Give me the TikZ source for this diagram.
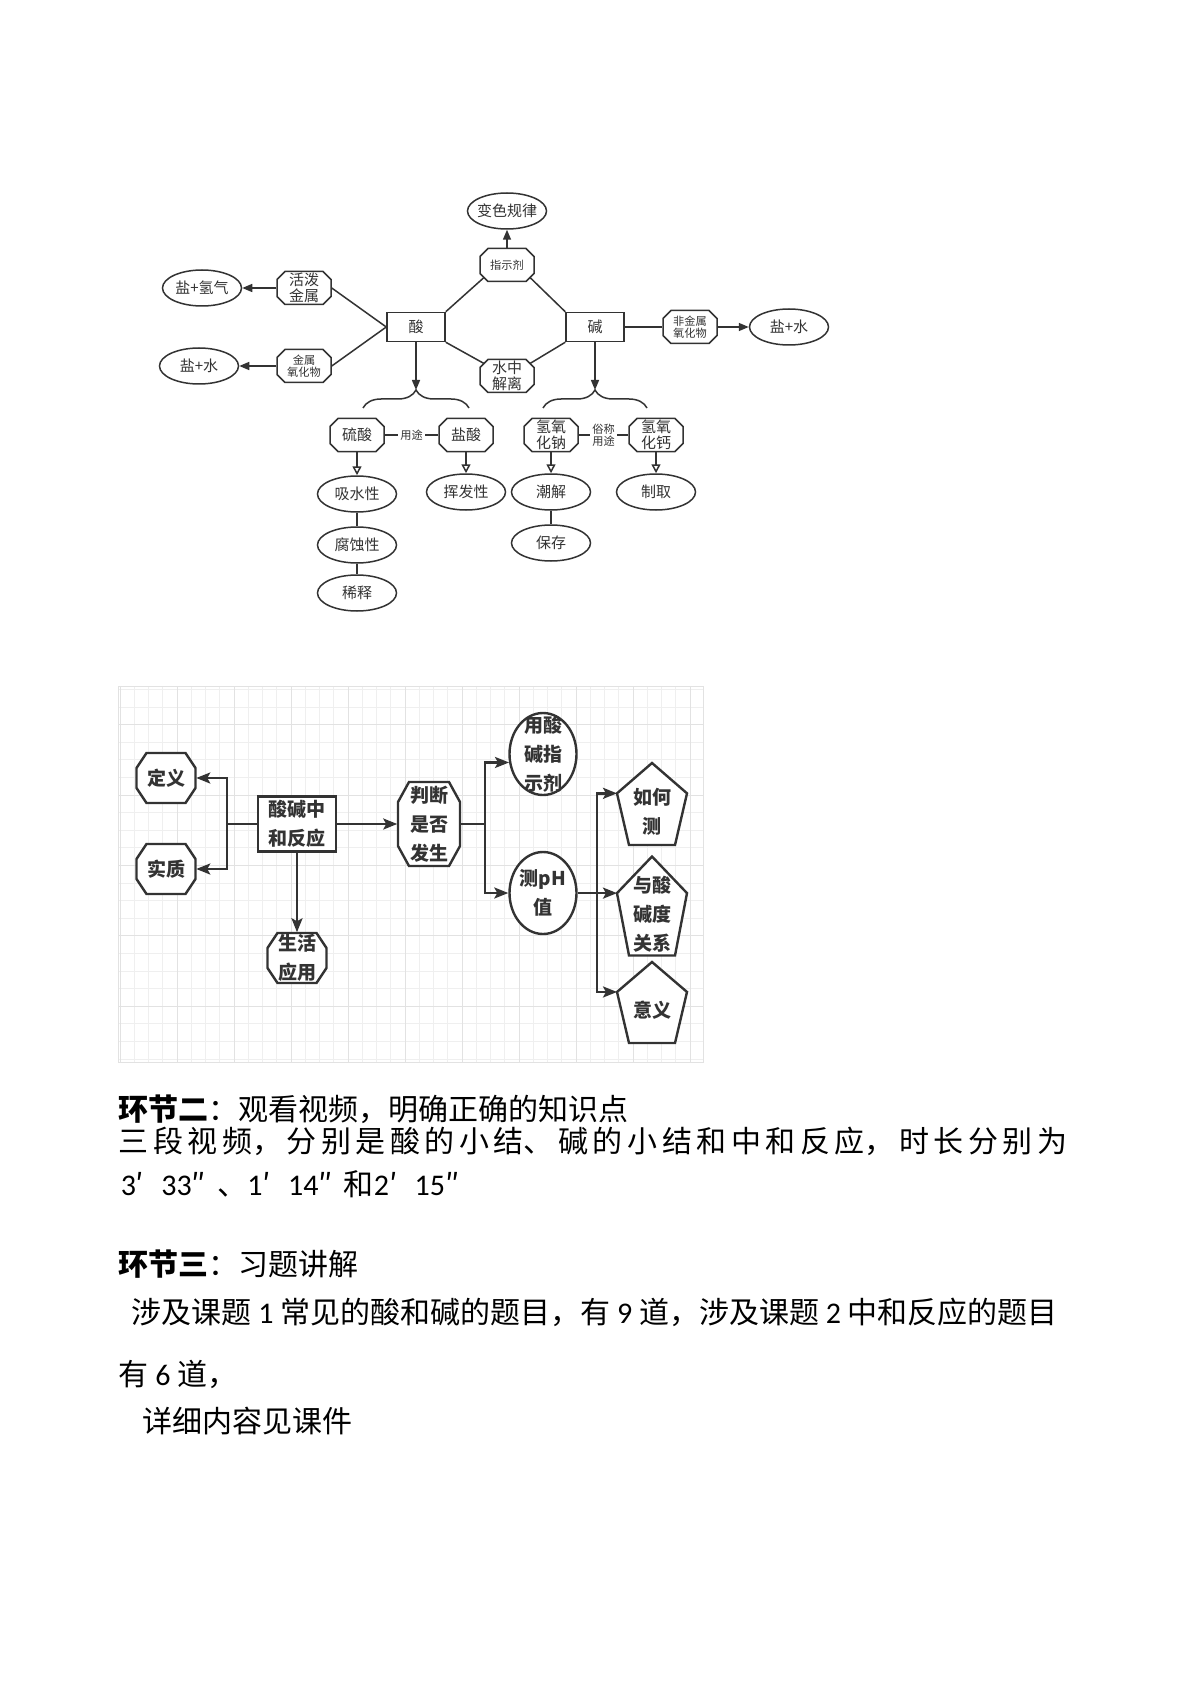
\documentclass[tikz,border=0pt]{standalone}
\usepackage{fontspec}
\setmainfont{Noto Sans CJK SC}
\newfontfamily\latn{Carlito}
\usetikzlibrary{arrows.meta, calc, shapes.geometric, decorations.pathreplacing}
\definecolor{ink}{HTML}{333333}
\definecolor{gridmin}{HTML}{EFEFEF}
\definecolor{gridmaj}{HTML}{E2E2E2}

\newcommand\topfont{\fontsize{7.5}{7.8}\selectfont}
\newcommand\topsmall{\fontsize{5.6}{6.2}\selectfont}
\newcommand\btmfont{\fontsize{9.5}{14.5}\selectfont\bfseries}
\newcommand\parafont{\fontsize{15}{18}\selectfont}
\newcommand\fw[1]{\makebox[0.85em][l]{#1}}

% octagon: [style], name, centre x, centre y, width, height, cut x, cut y
% midpoints of the cut corners kept as (name-nw) (name-ne) (name-sw) (name-se)
\newcommand\drawoct[8][]{%
  \draw[ink, fill=white, #1]
    ({#3-#5/2+#7},{#4-#6/2}) -- ({#3+#5/2-#7},{#4-#6/2})
    -- ({#3+#5/2},{#4-#6/2+#8}) -- ({#3+#5/2},{#4+#6/2-#8})
    -- ({#3+#5/2-#7},{#4+#6/2}) -- ({#3-#5/2+#7},{#4+#6/2})
    -- ({#3-#5/2},{#4+#6/2-#8}) -- ({#3-#5/2},{#4-#6/2+#8}) -- cycle;
  \coordinate (#2-nw) at ({#3-#5/2+#7/2},{#4-#6/2+#8/2});
  \coordinate (#2-ne) at ({#3+#5/2-#7/2},{#4-#6/2+#8/2});
  \coordinate (#2-sw) at ({#3-#5/2+#7/2},{#4+#6/2-#8/2});
  \coordinate (#2-se) at ({#3+#5/2-#7/2},{#4+#6/2-#8/2});}

% pentagon: name, centre x, top y, height -- left upper corner kept as (name-l)
\newcommand\drawpenta[4]{%
  \draw[ink, line width=1.2pt, fill=white]
    ({#2-35},{#3+0.37*#4}) coordinate (#1-l) -- (#2,#3)
    -- ({#2+35},{#3+0.37*#4}) -- ({#2+23},{#3+#4})
    -- ({#2-23},{#3+#4}) -- cycle;}

\begin{document}
\begin{tikzpicture}[
  x=0.5pt, y=-0.5pt,
  line width=0.75pt,
  every node/.style={text=ink, align=center},
  topbox/.style={draw=ink, rectangle, minimum width=29pt, minimum height=14.5pt,
    inner sep=0pt, font=\topfont},
  topoct/.style={rectangle, minimum width=27pt, minimum height=16.5pt,
    inner sep=0pt, font=\topfont},
  topell/.style={draw=ink, ellipse, minimum width=39.5pt, minimum height=18pt,
    inner sep=-4pt, font=\topfont},
  tarr/.style={draw=ink, -{Triangle[length=5pt, width=4pt]}},
  oarr/.style={draw=ink, -{Triangle[open, length=4.5pt, width=4.5pt]}},
  btmbox/.style={draw=ink, fill=white, line width=1.2pt, rectangle, minimum width=39pt,
    minimum height=27.5pt, inner sep=0pt, font=\btmfont},
  btmoct/.style={rectangle, minimum width=29.5pt, minimum height=25pt,
    inner sep=0pt, font=\btmfont},
  btmell/.style={draw=ink, fill=white, line width=1.2pt, ellipse, minimum width=33.5pt,
    minimum height=41pt, inner sep=-6pt, font=\btmfont},
  penta/.style={inner sep=0pt, font=\btmfont},
  bline/.style={draw=ink, line width=1.2pt},
  barr/.style={bline, -{Stealth[length=7pt, width=5.5pt, inset=1.5pt]}},
  para/.style={anchor=west, inner sep=0pt, text=black, font=\parafont, align=left}
]

% Page
\fill[white] (0,0) rectangle (1191,1684);
\useasboundingbox (0,0) rectangle (1191,1684);

% ── Acid / base map ──
\node[topbox] (acid) at (416,327) {酸};
\node[topbox] (alk) at (595,327) {碱};
\drawoct{ind}{507}{265}{54}{33}{8}{8}
\node[topoct, font=\topsmall] (ind) at (507,265) {指示剂};
\node[topell] (rule) at (507,211) {变色规律};
\drawoct{diss}{507}{376}{54}{33}{8}{8}
\node[topoct] (diss) at (507,376) {水中\\解离};
\drawoct{act}{304}{288}{54}{33}{8}{8}
\node[topoct] (act) at (304,288) {活泼\\金属};
\node[topell] (hyd) at (202,288) {盐+氢气};
\drawoct{mox}{304}{366}{54}{33}{8}{8}
\node[topoct, font=\topsmall] (mox) at (304,366) {金属\\氧化物};
\node[topell] (salt1) at (199,366) {盐+水};
\drawoct{nmox}{690}{327}{54}{33}{8}{8}
\node[topoct, font=\topsmall] (nmox) at (690,327) {非金属\\氧化物};
\node[topell] (salt2) at (789,327) {盐+水};

% the four substances
\drawoct{sulf}{357}{435}{54}{33}{8}{8}
\node[topoct] (sulf) at (357,435) {硫酸};
\drawoct{hcl}{466}{435}{54}{33}{8}{8}
\node[topoct] (hcl) at (466,435) {盐酸};
\drawoct{naoh}{551}{435}{54}{33}{8}{8}
\node[topoct] (naoh) at (551,435) {氢氧\\化钠};
\drawoct{caoh}{656}{435}{54}{33}{8}{8}
\node[topoct] (caoh) at (656,435) {氢氧\\化钙};
\node[topell] (absorb) at (357,494) {吸水性};
\node[topell] (corr) at (357,545) {腐蚀性};
\node[topell] (dil) at (357,593) {稀释};
\node[topell] (volat) at (466,492) {挥发性};
\node[topell] (deliq) at (551,492) {潮解};
\node[topell] (store) at (551,543) {保存};
\node[topell] (prep) at (656,492) {制取};

% brace ends and tips
\coordinate (lbl) at (363,408);
\coordinate (lbr) at (469,408);
\coordinate (lbtip) at (416,390);
\coordinate (rbl) at (543,408);
\coordinate (rbr) at (647,408);
\coordinate (rbtip) at (595,390);

\draw[tarr] (ind) -- (rule);
\draw[tarr] (act) -- (hyd);
\draw[tarr] (mox) -- (salt1);
\draw[tarr] (nmox) -- (salt2);
\draw[ink] (alk) -- (nmox);
\draw[ink] (act.east) -- (acid.west);
\draw[ink] (mox.east) -- (acid.west);
\draw[ink] (acid.north east) -- (ind-sw);
\draw[ink] (alk.north west) -- (ind-se);
\draw[ink] (acid.south east) -- (diss-nw);
\draw[ink] (alk.south west) -- (diss-ne);

\draw[tarr] (acid) -- (lbtip);
\draw[tarr] (alk) -- (rbtip);
\draw[ink, decorate, decoration={brace, amplitude=9pt}] (lbl) -- (lbr);
\draw[ink, decorate, decoration={brace, amplitude=9pt}] (rbl) -- (rbr);

\draw[ink] (sulf) -- node[fill=white, font=\topsmall, inner sep=1pt] (use1) {用途} (hcl);
\draw[ink] (naoh) -- node[fill=white, font=\topsmall, inner sep=1pt] (use2) {俗称\\用途} (caoh);
\draw[oarr] (sulf) -- (absorb);
\draw[oarr] (hcl) -- (volat);
\draw[oarr] (naoh) -- (deliq);
\draw[oarr] (caoh) -- (prep);
\draw[ink] (absorb) -- (corr);
\draw[ink] (corr) -- (dil);
\draw[ink] (deliq) -- (store);

% ── Neutralisation map on grid paper ──
\foreach \i in {0,...,40}
  \draw[gridmin, line width=0.5pt] ({120+14.25*\i},686) -- ({120+14.25*\i},1062);
\foreach \j in {0,...,21}
  \draw[gridmin, line width=0.5pt] (118,{689.5+17.6*\j}) -- (703,{689.5+17.6*\j});
\foreach \i in {0,4,...,40}
  \draw[gridmaj, line width=0.5pt] ({120+14.25*\i},686) -- ({120+14.25*\i},1062);
\foreach \j in {2,6,...,18}
  \draw[gridmaj, line width=0.5pt] (118,{689.5+17.6*\j}) -- (703,{689.5+17.6*\j});
\draw[gridmaj, line width=0.5pt] (118,686) rectangle (703,1062);

\node[btmbox] (neut) at (297,824) {酸碱中\\和反应};
\drawoct[line width=1.2pt]{def}{166}{778}{59}{50}{10}{15}
\node[btmoct] (def) at (166,778) {定义};
\drawoct[line width=1.2pt]{sub}{166}{869}{59}{50}{10}{15}
\node[btmoct] (sub) at (166,869) {实质};
\drawoct[line width=1.2pt]{life}{297}{958}{59}{50}{10}{15}
\node[btmoct] (life) at (297,958) {生活\\应用};
\drawoct[line width=1.2pt]{judge}{429}{824}{62}{84}{11}{20}
\node[btmoct, minimum width=31pt, minimum height=42pt] (judge) at (429,824) {判断\\是否\\发生};
\node[btmell] (indic) at (543,754) {用酸\\碱指\\示剂};
\node[btmell] (ph) at (543,893) {测pH\\值};

\drawpenta{how}{652}{763}{82}
\drawpenta{rel}{652}{856.5}{99}
\drawpenta{mean}{652}{962}{81}
\node[penta] (how) at (652,812) {如何\\测};
\node[penta] (rel) at (652,914) {与酸\\碱度\\关系};
\node[penta] (mean) at (652,1010) {意义};

\coordinate (jl) at (227,824);
\coordinate (jr) at (485,824);
\coordinate (jp) at (597,893);

\draw[bline] (neut.west) -- (jl);
\draw[barr] (jl) |- (def.east);
\draw[barr] (jl) |- (sub.east);
\draw[barr] (neut) -- (life);
\draw[barr] (neut.east) -- (judge.west);
\draw[bline] (judge.east) -- (jr);
\draw[barr] (jr) |- (indic.194);
\draw[barr] (jr) |- (ph.west);
\draw[bline] (ph.east) -- (jp);
\draw[barr] (jp) |- (how-l);
\draw[barr] (jp) |- (rel-l);
\draw[barr] (jp) |- (mean-l);

% ── Lesson text ──
\node[para] (sec2) at (118,1109) {\textbf{环节二}：观看视频，明确正确的知识点};
\node[para, text width=476.5pt, align=justify] (sec2a) at (118,1141)
  {\parindent=0pt\XeTeXlinebreaklocale "zh"\XeTeXlinebreakskip=0pt plus 1fil\parfillskip=0pt
   三段视频，分别是酸的小结、碱的小结和中和反应，时长分别为};
\node[para] (sec2b) at (120,1184)
  {{\latn 3}\fw{′}{\latn 33}\fw{″}、{\latn 1}\fw{′}{\latn 14}\fw{″}和{\latn 2}\fw{′}{\latn 15}\fw{″}};
\node[para] (sec3) at (118,1264) {\textbf{环节三}：习题讲解};
\node[para] (sec3a) at (131,1312)
  {涉及课题 {\latn 1} 常见的酸和碱的题目，有 {\latn 9} 道，涉及课题 {\latn 2} 中和反应的题目};
\node[para] (sec3b) at (118,1374) {有 {\latn 6} 道，};
\node[para] (sec3c) at (142,1421) {详细内容见课件};

\end{tikzpicture}
\end{document}
